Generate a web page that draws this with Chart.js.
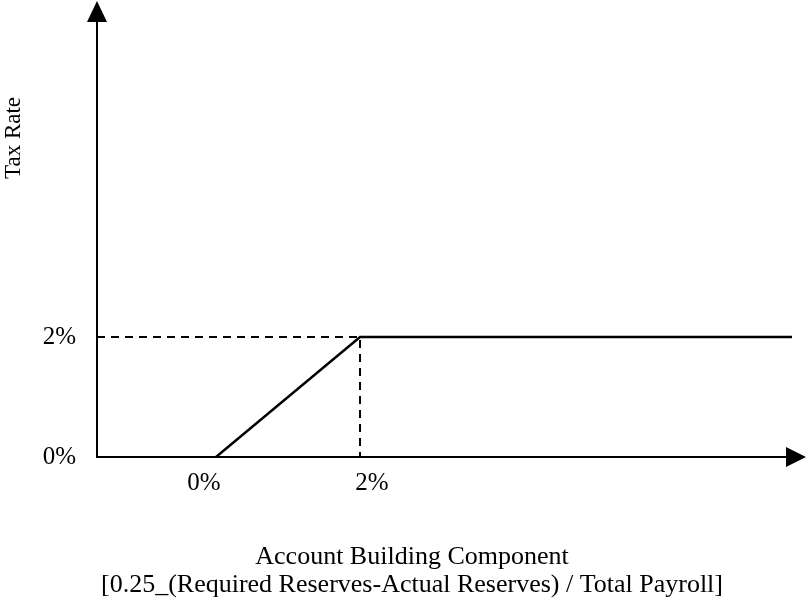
<!DOCTYPE html>
<html>
<head>
<meta charset="utf-8">
<script src="https://cdn.jsdelivr.net/npm/chart.js@4"></script>
<style>
  html, body { margin: 0; padding: 0; background: #fff; }
  #wrap { width: 809px; height: 603px; }
</style>
</head>
<body>
<div id="wrap"><canvas id="taxChart"></canvas></div>
<script>
// tax rate schedule (x = account building component %, y = tax rate %)
const rateX = [0, 2, 8];
const rateY = [0, 2, 2];
// dashed guide to the 2% / 2% corner
const guideX = [-1.653, 2, 2];
const guideY = [2, 2, 0];
const xTickValues = [0, 2];
const xTickLabels = ['0%', '2%'];
const yTickValues = [0, 2];
const yTickLabels = ['0%', '2%'];
const xTitle = ['Account Building Component', '[0.25_(Required Reserves-Actual Reserves) / Total Payroll]'];
const yTitle = 'Tax Rate';

const FONT = '"Liberation Serif", "Times New Roman", serif';

const toPoints = (xs, ys) => xs.map((x, i) => ({ x: x, y: ys[i] }));

// axes with arrow heads + texts that sit off the usual spots
const axesPlugin = {
    id: 'arrowAxes',
    afterDraw(chart) {
        const { ctx, chartArea, scales } = chart;
        const left = chartArea.left, bottom = chartArea.bottom;
        ctx.save();
        ctx.strokeStyle = '#000';
        ctx.fillStyle = '#000';
        ctx.lineWidth = 2;
        ctx.beginPath();
        ctx.moveTo(left, bottom);
        ctx.lineTo(left, chartArea.top + 18);
        ctx.moveTo(left - 1, bottom);
        ctx.lineTo(chartArea.right - 18, bottom);
        ctx.stroke();
        // up arrow
        ctx.beginPath();
        ctx.moveTo(left, chartArea.top);
        ctx.lineTo(left - 10, chartArea.top + 21);
        ctx.lineTo(left + 10, chartArea.top + 21);
        ctx.closePath();
        ctx.fill();
        // right arrow
        ctx.beginPath();
        ctx.moveTo(chartArea.right, bottom);
        ctx.lineTo(chartArea.right - 20, bottom - 10);
        ctx.lineTo(chartArea.right - 20, bottom + 10);
        ctx.closePath();
        ctx.fill();

        // x tick labels, nudged away from the corner like the original
        ctx.font = '25px ' + FONT;
        ctx.textAlign = 'center';
        ctx.textBaseline = 'middle';
        const shift = [-12, 12];
        xTickValues.forEach((v, i) => {
            ctx.fillText(xTickLabels[i], scales.x.getPixelForValue(v) + shift[i], bottom + 26);
        });

        // x title
        ctx.font = '26px ' + FONT;
        xTitle.forEach((line, i) => {
            ctx.fillText(line, 412, 557 + i * 28);
        });

        // y title
        ctx.font = '23px ' + FONT;
        ctx.translate(14, 138);
        ctx.rotate(-Math.PI / 2);
        ctx.fillText(yTitle, 0, 0);
        ctx.restore();
    }
};

new Chart(document.getElementById('taxChart'), {
    type: 'line',
    data: {
        datasets: [{
            data: toPoints(rateX, rateY),
            borderColor: '#000',
            borderWidth: 2.5,
            pointRadius: 0,
            tension: 0
        }, {
            data: toPoints(guideX, guideY),
            borderColor: '#000',
            borderWidth: 2,
            borderDash: [8, 6],
            pointRadius: 0,
            tension: 0
        }]
    },
    options: {
        responsive: true,
        maintainAspectRatio: false,
        animation: false,
        layout: {
            padding: { left: 0, top: 1, right: 3, bottom: 0 }
        },
        plugins: {
            legend: { display: false },
            tooltip: { enabled: false }
        },
        scales: {
            x: {
                type: 'linear',
                min: -1.653,
                max: 8.194,
                grid: { display: false },
                border: { display: false },
                ticks: { display: false },
                afterFit: function(scale) {
                    scale.height = 146;
                }
            },
            y: {
                min: 0,
                max: 7.6,
                grid: { display: false },
                border: { display: false },
                afterBuildTicks: function(scale) {
                    scale.ticks = yTickValues.map(v => ({ value: v }));
                },
                afterFit: function(scale) {
                    scale.width = 97;
                    // labels sit low on the axis, no room needed above
                    scale.paddingTop = 0;
                    scale.paddingBottom = 0;
                },
                ticks: {
                    padding: 13,
                    color: '#000',
                    font: { family: FONT, size: 25 },
                    callback: function(value) {
                        return yTickLabels[yTickValues.indexOf(value)];
                    }
                }
            }
        }
    },
    plugins: [axesPlugin]
});
</script>
</body>
</html>
